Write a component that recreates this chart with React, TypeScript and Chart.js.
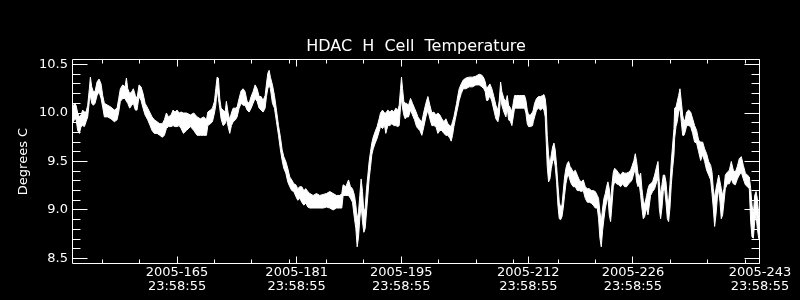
import React, { useEffect, useRef } from "react";
import { Chart, registerables } from "chart.js";

Chart.register(...registerables);

// ---- data: day-of-year (2005) and envelope of the temperature trace (Degrees C)
const daysA = [150.94,151.26,151.48,151.70,151.93,152.15,152.37,152.60,152.82,153.04,153.26,153.40,153.58,153.80,154.02,154.29,154.56,154.83,155.05,155.27,155.72,156.16,156.61,156.97,157.19,157.41,157.73,158.04,158.22,158.40,158.66,158.93,159.15,159.42,159.64,159.91,160.18,160.45,160.72,161.07,161.39,161.65,161.96,162.32,162.68,163.04,163.30,163.57,163.84,164.20,164.46,164.73,165.00,165.27,165.54,165.85];
const highA = [10.03,10.10,10.08,10.00,9.96,9.98,10.03,10.01,10.01,10.08,10.25,10.37,10.27,10.22,10.22,10.32,10.35,10.30,10.18,10.10,10.08,10.06,10.03,10.05,10.15,10.25,10.29,10.27,10.36,10.25,10.20,10.22,10.25,10.18,10.15,10.29,10.27,10.20,10.10,10.05,10.00,9.96,9.93,9.91,9.89,9.89,9.93,10.00,9.96,9.98,10.03,10.01,10.03,10.00,10.01,10.00];
const lowA = [9.89,9.93,9.94,9.82,9.79,9.86,9.87,9.86,9.91,9.96,10.12,10.18,10.10,10.08,10.10,10.18,10.22,10.15,10.06,9.96,9.96,9.94,9.91,9.93,10.01,10.12,10.15,10.15,10.12,10.10,10.05,10.08,10.10,10.03,10.03,10.17,10.13,10.05,9.98,9.93,9.87,9.82,9.79,9.79,9.77,9.75,9.77,9.84,9.86,9.86,9.87,9.86,9.86,9.87,9.84,9.79];

const daysB = [166.25,166.79,167.23,167.68,168.12,168.57,168.93,169.11,169.46,169.73,170.00,170.18,170.36,170.53,170.71,170.89,171.16,171.43,171.60,171.83,172.05,172.27,172.50,172.81,173.03,173.30,173.57,173.84,174.10,174.37,174.64,174.91,175.17,175.44,175.71,175.98,176.24,176.51,176.78,176.96,177.14,177.32,177.49,177.76,178.03,178.30,178.57,178.83,179.06,179.28,179.55,179.81,180.08,180.35,180.62,180.89,181.15,181.42];
const highB = [10.00,9.98,10.00,9.96,9.94,9.96,9.93,10.01,10.03,10.05,10.12,10.25,10.37,10.36,10.15,10.05,10.03,10.01,10.12,10.00,9.93,10.00,10.05,10.05,10.06,10.15,10.23,10.25,10.22,10.12,10.10,10.17,10.22,10.29,10.25,10.17,10.17,10.13,10.18,10.30,10.41,10.44,10.37,10.29,10.18,10.03,9.87,9.75,9.62,9.55,9.50,9.43,9.34,9.31,9.27,9.26,9.22,9.24];
const lowB = [9.82,9.86,9.82,9.77,9.77,9.77,9.77,9.87,9.89,9.91,10.00,10.08,10.25,10.15,10.05,9.94,9.87,9.89,9.94,9.86,9.79,9.87,9.91,9.93,9.96,10.05,10.10,10.08,10.08,10.03,10.01,10.05,10.10,10.15,10.12,10.05,10.03,10.01,10.05,10.17,10.25,10.29,10.25,10.10,10.05,9.91,9.77,9.62,9.51,9.43,9.38,9.29,9.24,9.20,9.19,9.14,9.10,9.12];

const daysC = [181.69,181.96,182.23,182.49,182.76,183.21,183.65,184.10,184.54,184.99,185.44,185.88,186.33,186.78,187.04,187.22,187.58,187.94,188.20,188.47,188.74,188.92,189.10,189.28,189.45,189.63,189.81,189.99,190.17,190.35,190.53,190.70,190.88,191.06,191.24,191.51,191.77,192.04,192.22,192.49,192.76,192.93,193.20,193.47,193.74,194.00,194.27,194.54,194.72,194.90,195.03,195.17,195.34,195.52,195.70,195.97,196.24,196.50,196.77,197.04];
const highC = [9.24,9.20,9.22,9.19,9.17,9.15,9.17,9.15,9.16,9.17,9.19,9.17,9.15,9.15,9.17,9.26,9.24,9.31,9.24,9.22,9.15,9.05,8.91,8.98,9.15,9.32,9.19,8.98,9.02,9.22,9.36,9.50,9.60,9.69,9.75,9.81,9.86,9.94,10.00,10.03,10.00,10.00,10.03,10.01,10.03,10.01,10.05,10.03,10.08,10.25,10.37,10.25,10.12,10.10,10.10,10.08,10.15,10.10,10.05,10.00];
const lowC = [9.08,9.05,9.07,9.03,9.02,9.02,9.02,9.02,9.02,9.03,9.02,9.00,9.02,9.02,9.02,9.15,9.15,9.15,9.12,9.08,8.91,8.81,8.62,8.72,8.91,9.05,8.88,8.77,8.81,8.98,9.15,9.32,9.44,9.57,9.63,9.69,9.74,9.81,9.86,9.84,9.87,9.79,9.87,9.87,9.89,9.87,9.87,9.86,9.87,10.06,10.15,10.05,9.98,9.94,9.96,9.96,10.03,9.98,9.93,9.86];

const daysD = [197.22,197.49,197.75,198.02,198.29,198.56,198.83,199.09,199.36,199.63,199.90,200.16,200.43,200.70,200.97,201.23,201.50,201.68,201.86,202.04,202.22,202.40,202.57,202.75,203.02,203.29,203.64,204.09,204.54,204.98,205.43,205.79,206.05,206.23,206.41,206.59,206.86,207.12,207.39,207.66,207.93,208.11,208.29,208.46,208.73,209.00,209.18,209.36,209.62,209.80,209.98,210.16,210.43,210.78,211.14,211.50,211.68,211.86,212.03,212.30,212.57];
const highD = [9.96,9.93,9.91,10.01,10.10,10.17,10.08,10.00,10.01,9.98,10.00,9.98,9.94,9.91,9.94,9.89,9.87,9.86,9.91,9.96,10.03,10.10,10.18,10.25,10.30,10.34,10.36,10.37,10.37,10.38,10.40,10.39,10.36,10.32,10.25,10.27,10.30,10.25,10.17,10.08,10.03,10.13,10.32,10.22,10.15,10.12,10.18,10.08,10.05,10.01,10.10,10.18,10.18,10.18,10.18,10.18,10.13,10.03,9.98,9.98,10.01];
const lowD = [9.84,9.82,9.77,9.86,9.96,10.03,9.94,9.87,9.87,9.86,9.79,9.82,9.82,9.79,9.77,9.77,9.74,9.71,9.77,9.86,9.93,10.00,10.06,10.13,10.20,10.25,10.25,10.27,10.27,10.29,10.29,10.27,10.25,10.22,10.13,10.13,10.18,10.12,10.03,9.94,9.91,9.98,10.18,10.08,10.01,9.96,10.05,9.93,9.91,9.87,9.96,10.05,10.05,10.05,10.05,10.05,10.00,9.89,9.86,9.86,9.87];

const daysE = [212.66,212.84,213.10,213.37,213.64,213.91,214.09,214.26,214.40,214.53,214.71,214.89,215.07,215.25,215.43,215.60,215.78,215.96,216.14,216.32,216.50,216.67,216.85,217.03,217.21,217.39,217.57,217.75,218.01,218.28,218.55,218.82,219.08,219.35,219.62,219.89,220.15,220.42,220.69,220.96,221.23,221.40,221.58,221.76,221.94,222.12,222.30,222.47,222.65,222.83,223.01,223.19,223.37,223.55,223.81,224.08,224.35,224.62,224.88,225.15,225.42,225.69,225.87,226.13,226.31,226.49,226.67,226.85,227.03,227.20,227.38,227.56,227.83];
const highE = [10.03,10.10,10.15,10.17,10.17,10.18,10.19,10.15,10.05,9.77,9.57,9.46,9.57,9.65,9.69,9.62,9.46,9.26,9.08,9.03,9.05,9.19,9.34,9.43,9.48,9.50,9.45,9.43,9.39,9.41,9.36,9.31,9.29,9.31,9.24,9.22,9.22,9.20,9.20,9.19,9.15,9.12,8.98,8.88,9.02,9.12,9.17,9.24,9.29,9.22,9.08,9.26,9.39,9.43,9.41,9.38,9.36,9.39,9.38,9.38,9.39,9.41,9.45,9.51,9.58,9.50,9.38,9.34,9.38,9.22,9.10,9.05,9.15];
const lowE = [9.91,9.96,10.03,10.05,10.03,10.05,10.03,9.96,9.70,9.45,9.29,9.32,9.43,9.50,9.53,9.45,9.29,9.05,8.91,8.90,8.93,9.02,9.15,9.27,9.34,9.36,9.31,9.27,9.24,9.24,9.20,9.20,9.19,9.20,9.12,9.08,9.08,9.07,9.05,9.02,9.02,8.91,8.71,8.62,8.79,8.91,9.02,9.08,9.14,8.95,8.88,9.05,9.24,9.29,9.27,9.26,9.24,9.27,9.24,9.24,9.27,9.29,9.31,9.38,9.43,9.29,9.24,9.26,9.15,9.02,8.91,8.93,9.02];

const daysF = [228.01,228.19,228.36,228.63,228.90,229.17,229.35,229.52,229.70,229.88,230.06,230.24,230.42,230.60,230.77,230.95,231.13,231.31,231.49,231.58,231.76,231.93,232.11,232.29,232.47,232.65,232.83,233.01,233.18,233.45,233.72,233.99,234.25,234.52,234.79,235.06,235.33,235.59,235.86,236.13,236.40,236.58,236.75,236.93,237.11,237.29,237.47,237.65,237.82,238.00,238.18,238.36,238.63,238.90,239.16,239.43,239.70,239.97,240.23,240.50,240.77,241.04,241.31,241.57,241.75,241.93,242.11,242.29,242.47,242.64,242.82,242.96];
const highF = [9.22,9.26,9.27,9.29,9.36,9.45,9.50,9.29,9.15,9.26,9.36,9.36,9.29,9.12,9.08,9.26,9.50,9.67,9.84,10.05,10.06,10.12,10.18,10.25,10.12,9.98,9.91,9.94,10.01,10.03,10.01,9.94,9.87,9.82,9.72,9.70,9.70,9.63,9.58,9.50,9.46,9.39,9.22,9.12,9.22,9.29,9.36,9.29,9.22,9.15,9.22,9.36,9.39,9.41,9.50,9.41,9.39,9.45,9.53,9.55,9.46,9.38,9.36,9.34,9.22,9.05,8.95,9.15,9.19,9.12,8.95,8.91];
const lowF = [8.95,9.05,9.15,9.19,9.22,9.29,9.32,9.02,8.91,9.02,9.19,9.22,9.08,8.91,8.88,9.02,9.26,9.43,9.57,9.74,9.86,9.91,10.01,10.05,9.91,9.77,9.77,9.81,9.87,9.87,9.86,9.79,9.70,9.69,9.60,9.51,9.57,9.50,9.41,9.36,9.31,9.17,9.02,8.83,8.95,9.12,9.22,9.08,8.91,8.95,9.08,9.22,9.27,9.27,9.32,9.27,9.26,9.32,9.36,9.39,9.32,9.26,9.24,9.22,8.88,8.72,8.71,8.88,8.95,8.81,8.71,8.69];

// ---- axes
const xMin = 150.94;
const xMax = 243;
const yMin = 8.443;
const yMax = 10.557;
const majorTickDays = [165, 181, 195, 212, 226, 243];
const majorTickDates = ["2005-165", "2005-181", "2005-195", "2005-212", "2005-226", "2005-243"];
const majorTickTime = "23:58:55";
const minorTickDays = [155, 160, 165, 170, 175, 180, 185, 190, 195, 200, 205, 210, 216, 221, 226, 231, 236, 241];
const yMajorTicks = [8.5, 9.0, 9.5, 10.0, 10.5];
const yMinorTicks = [8.6, 8.7, 8.8, 8.9, 9.1, 9.2, 9.3, 9.4, 9.6, 9.7, 9.8, 9.9, 10.1, 10.2, 10.3, 10.4];

const titleText = "HDAC  H  Cell  Temperature";
const yTitle = "Degrees C";

const FONT = "'DejaVu Sans', sans-serif";

const idlFrame = {
  id: "idlFrame",
  afterDatasetsDraw(chart: any) {
    const { ctx, chartArea: a, scales } = chart;
    const xs = scales.x;
    const ys = scales.y;
    const L = Math.floor(a.left) + 0.5;
    const R = Math.floor(a.right) - 0.5;
    const T = Math.floor(a.top) + 0.5;
    const B = Math.floor(a.bottom) - 0.5;
    ctx.save();
    ctx.strokeStyle = "#ffffff";
    ctx.lineWidth = 1;
    ctx.beginPath();
    ctx.rect(L, T, R - L, B - T);
    const xt = (v: number, len: number) => {
      const p = Math.min(Math.floor(xs.getPixelForValue(v)) + 0.5, R);
      ctx.moveTo(p, B);
      ctx.lineTo(p, B - len);
      ctx.moveTo(p, T);
      ctx.lineTo(p, T + len);
    };
    const yt = (v: number, len: number) => {
      const p = Math.floor(ys.getPixelForValue(v)) + 0.5;
      ctx.moveTo(L, p);
      ctx.lineTo(L + len, p);
      ctx.moveTo(R, p);
      ctx.lineTo(R - len, p);
    };
    minorTickDays.forEach((d) => xt(d, 4));
    majorTickDays.forEach((d) => xt(d, 7));
    yMinorTicks.forEach((v) => yt(v, 8));
    yMajorTicks.forEach((v) => yt(v, 15));
    ctx.stroke();
    ctx.restore();
  },
};

export default function App() {
  const ref = useRef<HTMLCanvasElement | null>(null);

  useEffect(() => {
    if (!ref.current) return;
    const days = [...daysA, ...daysB, ...daysC, ...daysD, ...daysE, ...daysF];
    const high = [...highA, ...highB, ...highC, ...highD, ...highE, ...highF];
    const low = [...lowA, ...lowB, ...lowC, ...lowD, ...lowE, ...lowF];

    const chart = new Chart(ref.current, {
      type: "line",
      data: {
        datasets: [
          {
            label: "upper",
            data: days.map((d, i) => ({ x: d, y: high[i] })),
            borderColor: "#ffffff",
            borderWidth: 1,
            pointRadius: 0,
            tension: 0,
            fill: false,
          },
          {
            label: "lower",
            data: days.map((d, i) => ({ x: d, y: low[i] })),
            borderColor: "#ffffff",
            backgroundColor: "#ffffff",
            borderWidth: 1,
            pointRadius: 0,
            tension: 0,
            fill: "-1",
          },
        ],
      },
      options: {
        animation: false,
        responsive: false,
        maintainAspectRatio: false,
        layout: { padding: { left: 0, right: 40, top: 0, bottom: 0 } },
        plugins: {
          legend: { display: false },
          tooltip: { enabled: false },
          title: {
            display: true,
            text: titleText,
            color: "#ffffff",
            fullSize: false,
            font: { family: FONT, size: 16, weight: "normal", lineHeight: 1 },
            padding: { top: 38.5, bottom: 4.5 },
          },
        },
        scales: {
          x: {
            type: "linear",
            min: xMin,
            max: xMax,
            grid: { display: false, drawTicks: false },
            border: { display: false },
            afterBuildTicks: (scale: any) => {
              scale.ticks = majorTickDays.map((v) => ({ value: v }));
            },
            afterFit: (scale: any) => {
              scale.height = 36;
            },
            ticks: {
              autoSkip: false,
              maxRotation: 0,
              minRotation: 0,
              padding: 2,
              color: "#ffffff",
              font: { family: FONT, size: 13, lineHeight: 14 / 13 },
              callback: (value: any) => {
                const i = majorTickDays.indexOf(Number(value));
                return i >= 0 ? [majorTickDates[i], majorTickTime] : "";
              },
            },
          },
          y: {
            type: "linear",
            min: yMin,
            max: yMax,
            grid: { display: false, drawTicks: false },
            border: { display: false },
            afterBuildTicks: (scale: any) => {
              scale.ticks = yMajorTicks.map((v) => ({ value: v }));
            },
            afterFit: (scale: any) => {
              scale.width = 72;
            },
            title: {
              display: true,
              text: yTitle,
              color: "#ffffff",
              font: { family: FONT, size: 13 },
              padding: { top: 16, bottom: 0 },
            },
            ticks: {
              padding: 4,
              color: "#ffffff",
              font: { family: FONT, size: 13 },
              callback: (value: any) => Number(value).toFixed(1),
            },
          },
        },
      },
      plugins: [idlFrame],
    });
    return () => chart.destroy();
  }, []);

  return (
    <div
      style={{
        position: "fixed",
        left: 0,
        top: 0,
        width: 800,
        height: 300,
        background: "#000000",
      }}
    >
      <canvas ref={ref} width={800} height={300} style={{ display: "block" }} />
    </div>
  );
}
